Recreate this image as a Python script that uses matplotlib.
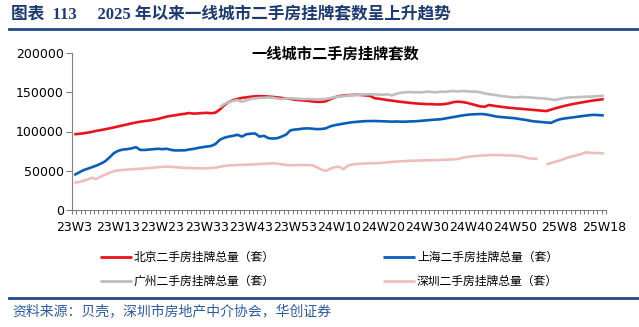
import matplotlib
matplotlib.use('Agg')
import matplotlib.pyplot as plt
import numpy as np

plt.rcParams['font.family'] = ['Noto Sans CJK SC', 'DejaVu Sans']

nan = np.nan

# week labels: 23W3..23W53, 24W1..24W52, 25W1..25W18
weeks = ([f'23W{w}' for w in range(3, 54)] + [f'24W{w}' for w in range(1, 53)]
         + [f'25W{w}' for w in range(1, 19)])

beijing = [96500, 97000, 97600, 98500, 99500, 100800, 101800, 102800, 104000, 105200,
           106500, 107800, 109000, 110300, 111500, 112500, 113300, 114000, 115000, 116000,
           117500, 119000, 120000, 120800, 121800, 122500, 123500, 122800, 123000, 123500,
           123800, 123300, 124000, 128000, 133500, 137500, 140000, 141500, 142800, 143500,
           144300, 144800, 145000, 145000, 144500, 144000, 143500, 142800, 142000, 141500,
           140500, 140000, 139500, 139000, 138300, 137800, 137800, 138500, 141000, 143500,
           145000, 145800, 146300, 146500, 146800, 146500, 146000, 145500, 142500, 141800,
           141000, 140000, 139300, 138500, 137800, 137200, 136500, 136000, 135500, 135200,
           134800, 134800, 134500, 134500, 135000, 136000, 137500, 138000, 137500, 136500,
           135000, 133500, 132000, 131500, 133800, 132800, 132000, 131300, 130500, 130000,
           129500, 129000, 128500, 128000, 127500, 127000, 126500, 126000, 127800, 129500,
           131000, 132500, 133800, 135000, 136000, 137000, 138000, 139000, 139800, 140500,
           141300]

shanghai = [44500, 47500, 50500, 52500, 54500, 56500, 59000, 62000, 67000, 72500,
            75500, 77000, 77500, 78500, 80000, 76500, 76500, 77000, 77500, 78000,
            77500, 78000, 76500, 75800, 76000, 76000, 77000, 77800, 79000, 80000,
            80800, 81500, 84000, 89500, 92000, 93500, 94500, 95800, 93500, 96500,
            97200, 97500, 93500, 94500, 91500, 91000, 91500, 93500, 96000, 101500,
            102500, 103000, 103800, 104000, 103500, 103000, 103200, 104000, 106500, 108000,
            109000, 110000, 111000, 111800, 112300, 112800, 113200, 113300, 113400, 113200,
            113000, 112800, 112500, 112800, 112500, 112500, 112800, 113000, 113300, 113800,
            114300, 114800, 115200, 115600, 116500, 117500, 118500, 119500, 120500, 121200,
            121800, 122000, 122300, 122000, 121000, 119800, 118800, 118300, 117800, 117300,
            116800, 115800, 115000, 114000, 113000, 112500, 112000, 111500, 111000, 113500,
            115500, 116500, 117300, 118000, 118800, 119500, 120300, 121000, 121200, 120800,
            120500]

guangzhou = [nan] * 33 + [
    131000, 135000, 137500, 139000, 140000, 138000, 139500,
    141500, 142300, 142800, 143000, 143300, 143000, 142000, 141200, 142000, 142300,
    142000, 141500, 141300, 141400, 141200, 141000, 141200, 141500, 142500, 143800,
    144400, 145000, 145800, 146300, 146500, 147000, 147300, 147400, 147400, 147000,
    146800, 147400, 146000, 148000, 149300, 150000, 150200, 150000, 149800, 150000,
    150800, 150300, 149800, 150800, 150500, 151200, 151600, 151000, 151500, 151300,
    150800, 150800, 150000, 148500, 147500, 146800, 146000, 145000, 144500, 143800,
    143300, 144000, 143800, 143500, 143000, 142500, 142300, 141800, 141000, 140000,
    141500, 142500, 143300, 143500, 143800, 144000, 144300, 144400, 144800, 145200,
    145600]

shenzhen = [34800, 35500, 37000, 38800, 41000, 39500, 42500, 45000, 47500, 49500,
            50500, 51000, 51500, 52000, 52200, 52500, 53000, 53500, 54000, 54500,
            55000, 55200, 55000, 54500, 54000, 53800, 53500, 53300, 53200, 53000,
            53100, 53500, 54000, 55000, 56000, 56800, 57000, 57300, 57500, 57800,
            58000, 58300, 58500, 58800, 59200, 59500, 59000, 58200, 57300, 57000,
            57200, 57300, 57300, 57200, 57000, 54500, 51500, 49700, 52500, 54500,
            55200, 52000, 56500, 58000, 58500, 59000, 59300, 59500, 59500, 59800,
            60200, 60800, 61300, 61800, 62000, 62400, 62600, 62800, 63000, 63200,
            63400, 63500, 63600, 63700, 64000, 64300, 64600, 65000, 66500, 67500,
            68300, 68800, 69200, 69500, 69800, 70000, 70000, 69800, 69500, 69300,
            69200, 68500, 67300, 65800, 65500, 65000, nan, 58200, 59800, 61500,
            63000, 65000, 67000, 68500, 70000, 71500, 73500, 72800, 72500, 72500,
            72200]

names = ['北京二手房挂牌总量（套）', '上海二手房挂牌总量（套）',
         '广州二手房挂牌总量（套）', '深圳二手房挂牌总量（套）']
colors = ['#E8141C', '#0A5EB8', '#BFBFBF', '#F0BDBD']

W, H = 639, 327
fig = plt.figure(figsize=(W / 100, H / 100), dpi=100)
ax = fig.add_axes([72 / W, 1 - 210 / H, (606 - 72) / W, (210 - 53) / H])

x = np.arange(len(weeks))
lines = []
for vals, c, n in zip([beijing, shanghai, guangzhou, shenzhen], colors, names):
    ln, = ax.plot(x, vals, color=c, lw=1.9, label=n, solid_capstyle='butt')
    lines.append(ln)

ax.set_xlim(-0.5, len(weeks) - 0.5)
ax.set_ylim(0, 200000)
ax.set_yticks([0, 50000, 100000, 150000, 200000])
ax.set_yticklabels(['0', '50000', '100000', '150000', '200000'],
                   fontfamily='DejaVu Sans', fontsize=9)
ax.set_xticks(x[::10])
ax.set_xticklabels(weeks[::10], fontfamily='DejaVu Sans', fontsize=9)
ax.set_xticks(np.arange(-0.5, len(weeks)), minor=True)
ax.tick_params(axis='x', which='major', length=0, pad=8)
ax.tick_params(axis='x', which='minor', length=3, color='#808080', width=0.8)
ax.tick_params(axis='y', length=4, color='#808080', width=0.8, pad=2)
for s in ['top', 'right']:
    ax.spines[s].set_visible(False)
for s in ['left', 'bottom']:
    ax.spines[s].set_color('#808080')
    ax.spines[s].set_linewidth(0.8)

fig.text(335 / W, 1 - 53 / H, '一线城市二手房挂牌套数', ha='center', va='center',
         fontsize=11, fontweight='bold')

# header and footer
fig.text(11 / W, 1 - 15 / H, '图表  113     2025 年以来一线城市二手房挂牌套数呈上升趋势',
         ha='left', va='center', fontsize=12, fontweight='bold', color='#1F3A6E',
         family=['Liberation Serif', 'Noto Sans CJK SC'])
fig.add_artist(plt.Line2D([9 / W, 1], [1 - 29 / H, 1 - 29 / H], color='#1F4A87', lw=2))
fig.add_artist(plt.Line2D([9 / W, 1], [1 - 298 / H, 1 - 298 / H], color='#1F4A87', lw=2))
fig.text(12 / W, 1 - 311 / H, '资料来源：贝壳，深圳市房地产中介协会，华创证券',
         ha='left', va='center', fontsize=10, style='italic', color='#2E5B9A')

# legend fills column by column: BJ / GZ in col 1, SH / SZ in col 2
leg = fig.legend(handles=[lines[0], lines[2], lines[1], lines[3]],
                 labels=[names[0], names[2], names[1], names[3]],
                 ncol=2, loc='upper left', bbox_to_anchor=(100 / W, 1 - 251 / H),
                 frameon=False, fontsize=8.5, handlelength=2.7, handletextpad=0.15,
                 columnspacing=9.2, labelspacing=0.95, borderpad=0, borderaxespad=0)
for ln in leg.get_lines():
    ln.set_linewidth(2)

fig.savefig('out.png', dpi=100)
